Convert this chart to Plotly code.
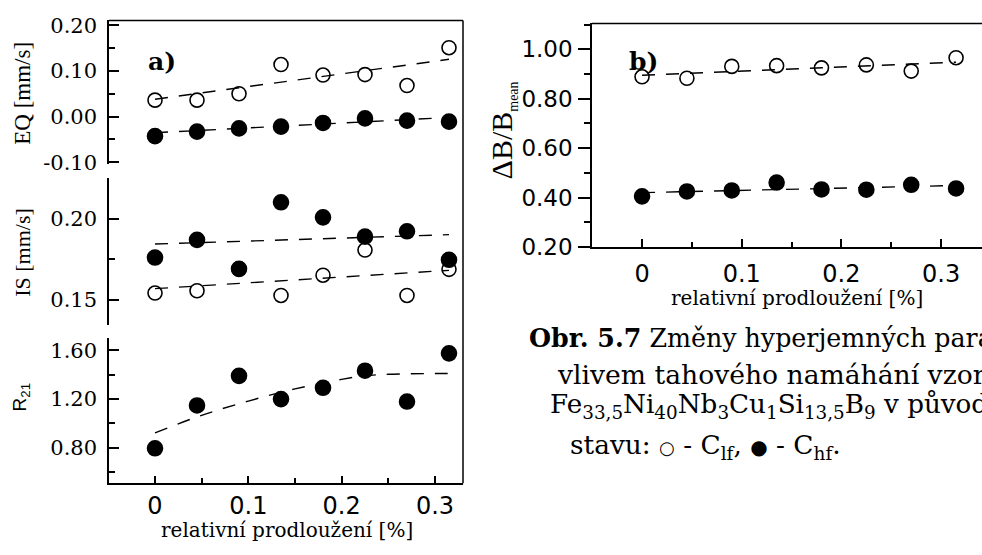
import plotly.graph_objects as go

W, H = 982, 555

# ---------------- data ----------------
strain = [0, 0.045, 0.09, 0.135, 0.18, 0.225, 0.27, 0.315]

eq_lf = [0.036, 0.036, 0.050, 0.114, 0.091, 0.092, 0.068, 0.151]
eq_hf = [-0.043, -0.033, -0.026, -0.022, -0.014, -0.004, -0.009, -0.011]
eq_lf_fit_x = [0, 0.315]
eq_lf_fit_y = [0.038, 0.1255]
eq_hf_fit_x = [0, 0.315]
eq_hf_fit_y = [-0.0355, -0.002]

is_lf = [0.1543, 0.1557, 0.1690, 0.1528, 0.1653, 0.1808, 0.1528, 0.1689]
is_hf = [0.1762, 0.1871, 0.1692, 0.2103, 0.2010, 0.1891, 0.1924, 0.1748]
is_lf_fit_x = [0, 0.315]
is_lf_fit_y = [0.1570, 0.1683]
is_hf_fit_x = [0, 0.315]
is_hf_fit_y = [0.1845, 0.1903]

r21_hf = [0.794, 1.146, 1.389, 1.198, 1.291, 1.431, 1.178, 1.574]
r21_fit_x = [0, 0.05, 0.1, 0.15, 0.2, 0.225, 0.25, 0.3, 0.315]
r21_fit_y = [0.921, 1.065, 1.182, 1.282, 1.360, 1.390, 1.402, 1.408, 1.409]

db_lf = [0.889, 0.883, 0.931, 0.934, 0.925, 0.937, 0.912, 0.966]
db_hf = [0.405, 0.425, 0.429, 0.461, 0.433, 0.432, 0.452, 0.437]
db_lf_fit_x = [0, 0.315]
db_lf_fit_y = [0.895, 0.948]
db_hf_fit_x = [0, 0.315]
db_hf_fit_y = [0.420, 0.449]

x_tickvals = [0, 0.1, 0.2, 0.3]
x_ticktext = ["0", "0.1", "0.2", "0.3"]
eq_tickvals = [-0.1, 0.0, 0.1, 0.2]
eq_ticktext = ["-0.10", "0.00", "0.10", "0.20"]
is_tickvals = [0.15, 0.20]
is_ticktext = ["0.15", "0.20"]
r21_tickvals = [0.8, 1.2, 1.6]
r21_ticktext = ["0.80", "1.20", "1.60"]
db_tickvals = [0.2, 0.4, 0.6, 0.8, 1.0]
db_ticktext = ["0.20", "0.40", "0.60", "0.80", "1.00"]

x_title = "relativní prodloužení [%]"

# ---------------- helpers ----------------
def px_x(p):
    return p / W

def px_y(p):
    return 1 - p / H

SERIF_H = "DejaVu Serif"
SANS_H = "DejaVu Sans"
SERIF_V = "Liberation Serif"
SANS_V = "Liberation Sans"

DASH = "13px,11px"

fig = go.Figure()

def add_pts(x, y, xa, ya, filled):
    fig.add_trace(go.Scatter(
        x=x, y=y, xaxis=xa, yaxis=ya, mode="markers",
        marker=dict(symbol="circle" if filled else "circle-open",
                    size=15 if filled else 14, color="black",
                    line=dict(color="black", width=1.6)),
        showlegend=False, hoverinfo="skip"))

def add_fit(x, y, xa, ya, spline=False):
    fig.add_trace(go.Scatter(
        x=x, y=y, xaxis=xa, yaxis=ya, mode="lines",
        line=dict(color="black", width=1.4, dash=DASH,
                  shape="spline" if spline else "linear"),
        showlegend=False, hoverinfo="skip"))

add_fit(eq_lf_fit_x, eq_lf_fit_y, "x", "y")
add_fit(eq_hf_fit_x, eq_hf_fit_y, "x", "y")
add_pts(strain, eq_lf, "x", "y", False)
add_pts(strain, eq_hf, "x", "y", True)
add_fit(is_lf_fit_x, is_lf_fit_y, "x", "y2")
add_fit(is_hf_fit_x, is_hf_fit_y, "x", "y2")
add_pts(strain, is_lf, "x", "y2", False)
add_pts(strain, is_hf, "x", "y2", True)
add_fit(r21_fit_x, r21_fit_y, "x", "y3", spline=True)
add_pts(strain, r21_hf, "x", "y3", True)
add_fit(db_lf_fit_x, db_lf_fit_y, "x2", "y4")
add_fit(db_hf_fit_x, db_hf_fit_y, "x2", "y4")
add_pts(strain, db_lf, "x2", "y4", False)
add_pts(strain, db_hf, "x2", "y4", True)

axis_common = dict(showgrid=False, zeroline=False, showline=True,
                   linecolor="black", linewidth=1.5, tickcolor="black",
                   tickwidth=1.5, tickmode="array")

left_dom = [px_x(109), px_x(463)]

def yax(dom_px, rng, tv, tt, minor_dtick, ticks_dir="inside", tlen=10,
        mlen=6, font=SERIF_H, fsize=21, standoff=6):
    return dict(axis_common, domain=[px_y(dom_px[1]), px_y(dom_px[0])],
                range=rng, tickvals=tv, ticktext=tt, ticks=ticks_dir,
                ticklen=tlen, anchor="x" if ticks_dir == "inside" else "x2",
                tickfont=dict(family=font, size=fsize, color="black"),
                ticklabelstandoff=standoff,
                minor=dict(ticks=ticks_dir, ticklen=mlen, tickwidth=1.5,
                           tickcolor="black", dtick=minor_dtick, tick0=0))

fig.update_layout(
    width=W, height=H,
    margin=dict(l=0, r=0, t=0, b=0),
    paper_bgcolor="white", plot_bgcolor="rgba(0,0,0,0)",
    xaxis=dict(axis_common, domain=left_dom, range=[-0.0493, 0.330],
               anchor="y3", tickvals=x_tickvals, ticktext=x_ticktext,
               ticks="inside", ticklen=7, ticklabelstandoff=0,
               tickfont=dict(family=SANS_H, size=24, color="black"),
               minor=dict(ticks="inside", ticklen=5, tickwidth=1.5,
                          tickcolor="black", dtick=0.05, tick0=0)),
    yaxis=yax([14, 163], [-0.1043, 0.2106], eq_tickvals, eq_ticktext, 0.05),
    yaxis2=yax([177, 330], [0.1345, 0.2255], is_tickvals, is_ticktext, 0.025),
    yaxis3=yax([343, 494], [0.507, 1.703], r21_tickvals, r21_ticktext, 0.2),
    xaxis2=dict(axis_common, domain=[px_x(592), 1.0], range=[-0.0502, 0.341],
                anchor="y4", tickvals=x_tickvals, ticktext=x_ticktext,
                ticks="inside", ticklen=8, ticklabelstandoff=4,
                tickfont=dict(family=SANS_H, size=24, color="black"),
                minor=dict(ticks="inside", ticklen=5, tickwidth=1.5,
                           tickcolor="black", dtick=0.05, tick0=0)),
    yaxis4=yax([17, 249], [0.2, 1.105], db_tickvals, db_ticktext, 0.1,
               ticks_dir="outside", tlen=12, mlen=6, font=SANS_H,
               fsize=23, standoff=1),
)

shapes = [
    dict(type="line", xref="paper", yref="paper", x0=px_x(109), x1=px_x(463),
         y0=px_y(14), y1=px_y(14), line=dict(color="black", width=1.5)),
    dict(type="line", xref="paper", yref="paper", x0=px_x(463), x1=px_x(463),
         y0=px_y(14), y1=px_y(494), line=dict(color="black", width=1.5)),
    dict(type="line", xref="paper", yref="paper", x0=px_x(592), x1=1.0,
         y0=px_y(17), y1=px_y(17), line=dict(color="black", width=1.5)),
]
fig.update_layout(shapes=shapes)

def ann(text, x, y, size, family, xanchor="center", yanchor="middle",
        angle=0, bold=False):
    if bold:
        text = "<b>" + text + "</b>"
    fig.add_annotation(text=text, xref="paper", yref="paper",
                       x=px_x(x), y=px_y(y), xanchor=xanchor,
                       yanchor=yanchor, showarrow=False, textangle=angle,
                       font=dict(family=family, size=size, color="black"))

ann("EQ [mm/s]", 23, 90, 23, SERIF_V, angle=-90)
ann("IS [mm/s]", 23, 255, 22, SERIF_V, angle=-90)
ann("R<sub>21</sub>", 21, 405, 19, SANS_V, angle=-90)
ann('ΔB/B<sub><span style="font-size:14px">mean</span></sub>', 503, 128, 30,
    SERIF_V, angle=-90)
ann(x_title, 287, 543, 20, SERIF_H)
ann(x_title, 797, 302, 20, SERIF_H)

ann("a)", 162, 57, 25, SERIF_H, bold=True)
ann("b)", 643, 57, 25, SERIF_H, bold=True)

ann("<b>Obr. 5.7</b> Změny hyperjemných parametrů", 527, 343, 25.3, SERIF_H,
    xanchor="left")
ann("vlivem tahového namáhání vzorku", 555, 381, 26.6, SERIF_H, xanchor="left")
ann("Fe<sub>33,5</sub>Ni<sub>40</sub>Nb<sub>3</sub>Cu<sub>1</sub>Si<sub>13,5</sub>B<sub>9</sub> v původním",
    548, 414, 26.2, SERIF_H, xanchor="left")
ann('stavu: <span style="font-size:18px">○</span> - C<sub>lf</sub>, '
    '<span style="font-size:20px">●</span> - C<sub>hf</sub>.', 568, 456, 26.4,
    SERIF_H, xanchor="left")

fig.write_html("out.html")
